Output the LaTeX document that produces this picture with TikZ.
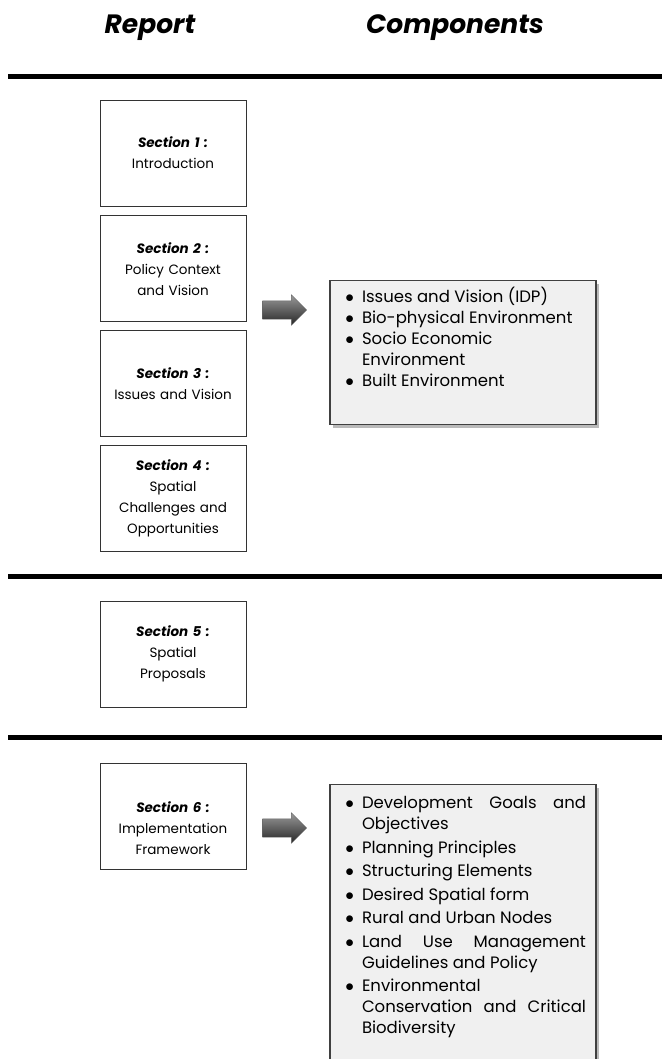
\documentclass[tikz,border=0pt]{standalone}
\usepackage{fontspec}
\setmainfont{Poppins}
\usepackage{enumitem}
\usetikzlibrary{positioning,shapes.arrows,shadows}

\tikzset{
  secbox/.style={draw=black!80, line width=0.9pt, text width=136pt,
    minimum width=146pt, minimum height=106pt, align=center, inner sep=5pt,
    font=\fontsize{13.5}{21}\selectfont},
  compbox/.style={draw=black!75, fill=black!6, line width=1.4pt,
    inner xsep=10pt, inner ysep=6pt,
    drop shadow={shadow xshift=3pt, shadow yshift=-3pt, opacity=.45, fill=black!60},
    font=\fontsize{16.5}{21}\selectfont},
  rule/.style={line width=5pt},
  blockarrow/.style={single arrow, draw=black!60, top color=black!40,
    bottom color=black!85, minimum height=44pt, inner xsep=0pt,
    inner ysep=9pt, single arrow head extend=6pt},
  heading/.style={font=\fontsize{26.5}{30}\selectfont\bfseries\itshape}
}
\newcommand{\sectitle}[1]{{\bfseries\itshape Section #1 :}}
\setlist[itemize]{nosep,leftmargin=22pt,labelsep=8pt,label=$\bullet$}

\begin{document}
\begin{tikzpicture}[x=1pt,y=-1pt]
\useasboundingbox (0,0) rectangle (662,1059);

% headings and rules
\node[heading] (report) at (150,28) {Report};
\node[heading] (components) at (455,28) {Components};
\coordinate (rulea1) at (8,77);  \coordinate (rulea2) at (662,77);
\coordinate (ruleb1) at (8,576); \coordinate (ruleb2) at (662,576);
\coordinate (rulec1) at (8,737); \coordinate (rulec2) at (662,737);
\draw[rule] (rulea1) -- (rulea2);
\draw[rule] (ruleb1) -- (ruleb2);
\draw[rule] (rulec1) -- (rulec2);

% report sections
\node[secbox] (sec1) at (173,153) {\sectitle{1}\\Introduction};
\node[secbox, below=9pt of sec1] (sec2) {\sectitle{2}\\Policy Context\\and Vision};
\node[secbox, below=8pt of sec2] (sec3) {\sectitle{3}\\Issues and Vision};
\node[secbox, below=8pt of sec3] (sec4) {\sectitle{4}\\Spatial\\Challenges and\\Opportunities};
\node[secbox] (sec5) at (173,654) {\sectitle{5}\\Spatial\\Proposals};
\node[secbox] (sec6) at (173,816) {\mbox{}\\[14pt]\sectitle{6}\\Implementation\\Framework};

% components
\node[compbox, anchor=north] (comp1) at (463,280) {\parbox[t][132pt][t]{246pt}{\raggedright
\begin{itemize}
\item Issues and Vision (IDP)
\item Bio-physical Environment
\item Socio Economic\newline Environment
\item Built Environment
\end{itemize}}};
\node[compbox, anchor=north, inner ysep=12pt] (comp2) at (463,784) {\parbox[t][300pt][t]{246pt}{%
\begin{itemize}[itemsep=2.5pt]
\item Development Goals and\linebreak Objectives
\item Planning Principles
\item Structuring Elements
\item Desired Spatial form
\item Rural and Urban Nodes
\item Land Use Management\linebreak Guidelines and Policy
\item Environmental\newline Conservation and Critical\linebreak Biodiversity
\end{itemize}}};

% arrows
\node[blockarrow] (arr1) at (280,310) {};
\node[blockarrow] (arr2) at (280,828) {};
\end{tikzpicture}
\end{document}
